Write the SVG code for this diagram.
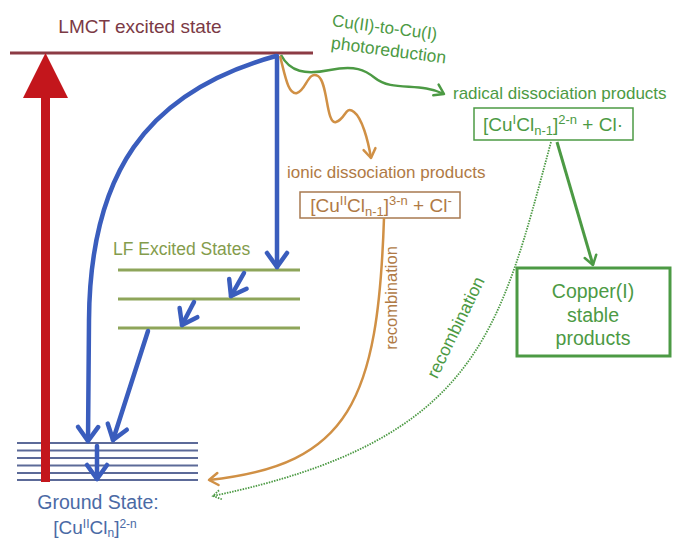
<svg xmlns="http://www.w3.org/2000/svg" width="674" height="540" viewBox="0 0 674 540">
<style>
text{font-family:"Liberation Sans",Arial,sans-serif}
.blue{fill:none;stroke:#3a5dbd;stroke-width:4.5;stroke-linecap:round}
.lf{stroke:#8ea55a;stroke-width:3}
.gs{stroke:#5c6a98;stroke-width:2}
.grn{fill:#4c9a44}
.org{fill:#b07a45}
</style>
<defs>
<marker id="bv" viewBox="-18 -13 22 26" refX="0" refY="0" markerWidth="22" markerHeight="26" markerUnits="userSpaceOnUse" orient="auto">
<path d="M-14,-10 L0,0 L-14,10" fill="none" stroke="#3a5dbd" stroke-width="4.5" stroke-linecap="round" stroke-linejoin="round"/>
</marker>
<marker id="gv" viewBox="-12 -9 14 18" refX="0" refY="0" markerWidth="14" markerHeight="18" markerUnits="userSpaceOnUse" orient="auto">
<path d="M-9,-6 L0,0 L-9,6" fill="none" stroke="#4c9a44" stroke-width="2.5" stroke-linecap="round" stroke-linejoin="round"/>
</marker>
<marker id="ov" viewBox="-12 -9 14 18" refX="0" refY="0" markerWidth="14" markerHeight="18" markerUnits="userSpaceOnUse" orient="auto">
<path d="M-9,-6 L0,0 L-9,6" fill="none" stroke="#d09045" stroke-width="2.5" stroke-linecap="round" stroke-linejoin="round"/>
</marker>
<marker id="dv" viewBox="-12 -9 14 18" refX="0" refY="0" markerWidth="14" markerHeight="18" markerUnits="userSpaceOnUse" orient="auto">
<path d="M-8,-5 L0,0 L-8,5" fill="none" stroke="#4c9a44" stroke-width="1.8" stroke-dasharray="1.5 1.2"/>
</marker>
</defs>
<rect width="674" height="540" fill="#ffffff"/>

<g id="lmct">
<line x1="10" y1="53" x2="313" y2="53" stroke="#8c3b44" stroke-width="3"/>
<text x="140" y="33" font-size="19" fill="#7b3a45" text-anchor="middle">LMCT excited state</text>
</g>

<g id="lf-states">
<line class="lf" x1="118" y1="270" x2="300" y2="270"/>
<line class="lf" x1="118" y1="299" x2="300" y2="299"/>
<line class="lf" x1="118" y1="328" x2="300" y2="328"/>
<text x="113" y="255" font-size="17.5" fill="#849c4c">LF Excited States</text>
</g>

<g id="ground-state">
<line class="gs" x1="17" y1="443" x2="198" y2="443"/>
<line class="gs" x1="17" y1="450.5" x2="198" y2="450.5"/>
<line class="gs" x1="17" y1="458" x2="198" y2="458"/>
<line class="gs" x1="17" y1="465.5" x2="198" y2="465.5"/>
<line class="gs" x1="17" y1="473" x2="198" y2="473"/>
<line class="gs" x1="17" y1="480" x2="198" y2="480"/>
<text x="98" y="509" font-size="19.5" fill="#4b6aa5" text-anchor="middle">Ground State:</text>
<text x="95" y="534" font-size="19" fill="#4b6aa5" text-anchor="middle">[Cu<tspan font-size="12" dy="-6">II</tspan><tspan dy="6">Cl</tspan><tspan font-size="12" dy="3">n</tspan><tspan dy="-3">]</tspan><tspan font-size="12" dy="-6">2-n</tspan></text>
</g>

<g id="radical">
<text x="453" y="99" font-size="17" class="grn">radical dissociation products</text>
<rect x="474" y="108" width="159" height="32" fill="none" stroke="#4c9a44" stroke-width="1.5"/>
<text x="553" y="131" font-size="19" class="grn" text-anchor="middle">[Cu<tspan font-size="13" dy="-7">I</tspan><tspan dy="7">Cl</tspan><tspan font-size="13" dy="4">n-1</tspan><tspan dy="-4">]</tspan><tspan font-size="13" dy="-7">2-n</tspan><tspan dy="7"> + Cl·</tspan></text>
</g>

<g id="ionic">
<text x="287" y="178" font-size="17" class="org">ionic dissociation products</text>
<rect x="300" y="192" width="160" height="26" fill="none" stroke="#a87a50" stroke-width="1.5"/>
<text x="381" y="212" font-size="19" class="org" text-anchor="middle">[Cu<tspan font-size="13" dy="-7">II</tspan><tspan dy="7">Cl</tspan><tspan font-size="13" dy="4">n-1</tspan><tspan dy="-4">]</tspan><tspan font-size="13" dy="-7">3-n</tspan><tspan dy="7"> + Cl</tspan><tspan font-size="13" dy="-7">-</tspan></text>
</g>

<g id="copper">
<rect x="517" y="268" width="153" height="88" fill="none" stroke="#4c9a44" stroke-width="3"/>
<text x="593" y="298" font-size="19.5" class="grn" text-anchor="middle">Copper(I)</text>
<text x="593" y="322" font-size="19.5" class="grn" text-anchor="middle">stable</text>
<text x="593" y="345" font-size="19.5" class="grn" text-anchor="middle">products</text>
</g>

<g id="connectors">
<rect x="41" y="96" width="9" height="386" fill="#c3161c"/>
<polygon points="45.5,53 23,98 68,98" fill="#c3161c"/>
<line class="blue" x1="277" y1="56" x2="277" y2="267" marker-end="url(#bv)"/>
<path class="blue" d="M276,56 C145,92 90,175 89,320 L88,441" marker-end="url(#bv)"/>
<line class="blue" x1="244" y1="273" x2="231" y2="296" marker-end="url(#bv)"/>
<line class="blue" x1="194" y1="302" x2="182" y2="325" marker-end="url(#bv)"/>
<line class="blue" x1="148" y1="331" x2="113" y2="440" marker-end="url(#bv)"/>
<line class="blue" x1="97" y1="446" x2="97" y2="479" marker-end="url(#bv)"/>
<path d="M281,55 C290,72 305,75 330,70 C355,65 365,70 375,78 C392,92 420,82 444,94" fill="none" stroke="#4c9a44" stroke-width="2.5" marker-end="url(#gv)"/>
<text transform="translate(384,33) rotate(7.5)" font-size="17" class="grn" text-anchor="middle">Cu(II)-to-Cu(I)</text>
<text transform="translate(388,56) rotate(7.5)" font-size="17.5" class="grn" text-anchor="middle">photoreduction</text>
<path d="M280,56 C285,75 288,95 297,93 C306,91 308,70 318,76 C328,82 326,125 336,122 C346,119 345,105 354,112 C362,118 368,140 371,158" fill="none" stroke="#d09045" stroke-width="2.5" marker-end="url(#ov)"/>
<line x1="557" y1="142" x2="593" y2="265" stroke="#4c9a44" stroke-width="3" marker-end="url(#gv)"/>
<path d="M384,218 C378,400 350,465 209,480" fill="none" stroke="#d09045" stroke-width="2.5" marker-end="url(#ov)"/>
<text transform="translate(397,298) rotate(-90)" font-size="16.5" class="org" text-anchor="middle">recombination</text>
<path d="M551,142 C500,330 480,440 213,496" fill="none" stroke="#4c9a44" stroke-width="1.8" stroke-dasharray="1.5 1.2" marker-end="url(#dv)"/>
<text transform="translate(461,330) rotate(-64)" font-size="17.5" class="grn" text-anchor="middle">recombination</text>
</g>
</svg>
